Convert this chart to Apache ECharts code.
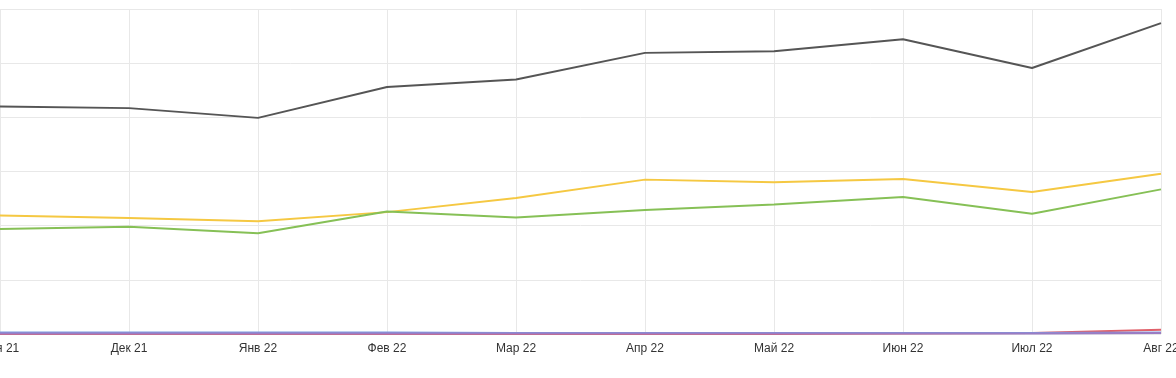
<!DOCTYPE html>
<html>
<head>
<meta charset="utf-8">
<script src="https://cdn.jsdelivr.net/npm/echarts@6/dist/echarts.min.js"></script>
<style>
  html, body { margin: 0; padding: 0; background: #fff; }
  #chart { width: 1176px; height: 378px; }
</style>
</head>
<body>
<div id="chart"></div>
<script>
// месяцы
const months = ['Ноя 21', 'Дек 21', 'Янв 22', 'Фев 22', 'Мар 22', 'Апр 22', 'Май 22', 'Июн 22', 'Июл 22', 'Авг 22']

// значения серий (оценка по картинке)
const totalValues = [42.0, 41.7, 39.9, 45.6, 47.0, 51.9, 52.2, 54.4, 49.1, 57.4]
const yellowValues = [21.9, 21.4, 20.8, 22.5, 25.1, 28.5, 28.0, 28.6, 26.2, 29.6]
const greenValues = [19.4, 19.8, 18.6, 22.6, 21.5, 22.9, 23.9, 25.3, 22.2, 26.7]
const blueValues = [0.3, 0.3, 0.3, 0.3, 0.2, 0.2, 0.2, 0.2, 0.2, 0.3]
const purpleValues = [0.1, 0.1, 0.1, 0.1, 0.1, 0.1, 0.1, 0.1, 0.1, 0.2]
const redValues = [0.0, 0.0, 0.0, 0.0, 0.0, 0.0, 0.0, 0.1, 0.2, 0.8]

const chart = echarts.init(document.getElementById('chart'))

const makeLine = (name, data, color) => ({
  name,
  type: 'line',
  data,
  symbol: 'none',
  lineStyle: { width: 2, color },
  itemStyle: { color }
})

chart.setOption({
  animation: false,
  grid: { left: 0, right: 15, top: 9, bottom: 44, containLabel: false, outerBoundsMode: 'none' },
  xAxis: {
    type: 'category',
    data: months,
    boundaryGap: false,
    axisLine: { show: false },
    axisTick: { show: false },
    axisLabel: {
      color: '#333',
      fontSize: 12,
      fontFamily: 'Arial, Liberation Sans, sans-serif',
      margin: 9,
      showMinLabel: true,
      showMaxLabel: true,
      hideOverlap: false,
      interval: 0
    },
    splitLine: { show: true, lineStyle: { color: '#e8e8e8', width: 1 } }
  },
  yAxis: {
    type: 'value',
    min: 0,
    max: 60,
    interval: 10,
    axisLine: { show: false },
    axisTick: { show: false },
    axisLabel: { show: false },
    splitLine: { lineStyle: { color: '#e8e8e8', width: 1 } }
  },
  series: [
    makeLine('Всего', totalValues, '#555555'),
    makeLine('Жёлтая', yellowValues, '#f5c842'),
    makeLine('Зелёная', greenValues, '#86c056'),
    makeLine('Красная', redValues, '#e0606a'),
    makeLine('Синяя', blueValues, '#7a9be0'),
    makeLine('Фиолетовая', purpleValues, '#9a7cc4')
  ]
})
</script>
</body>
</html>
